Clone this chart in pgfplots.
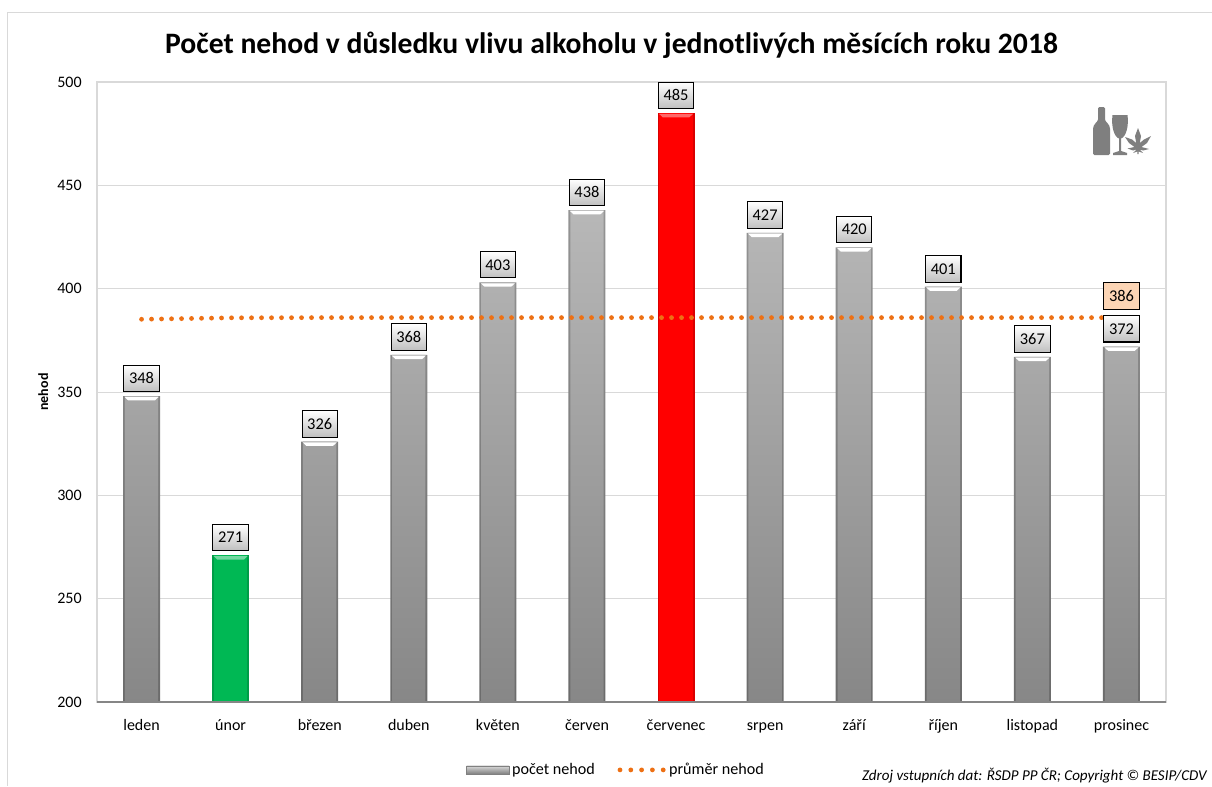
\documentclass[border=0pt]{standalone}
\usepackage{fontspec}
\setmainfont{Carlito}
\usepackage{pgfplots}
\usepackage{pgfplotstable}
\pgfplotsset{compat=1.18}
\definecolor{cGrid}{RGB}{217,217,217}
\definecolor{cAxis}{RGB}{134,134,134}
\definecolor{cAvg}{RGB}{237,112,20}
\definecolor{cAvgBox}{RGB}{252,213,181}
\definecolor{cIcon}{RGB}{127,127,127}
\definecolor{cGreen}{RGB}{0,184,84}
\definecolor{cRed}{RGB}{255,0,0}

% 1 px of the reference is 0.75pt here
\pgfplotstableread{
x y
0 348
2 326
3 368
4 403
5 438
7 427
8 420
9 401
10 367
11 372
}\graydata
\pgfplotstableread{
x y
1 271
}\greendata
\pgfplotstableread{
x y
6 485
}\reddata
\pgfplotstableread{
x y
0 348
1 271
2 326
3 368
4 403
5 438
6 485
7 427
8 420
9 401
10 367
11 372
}\alldata

\pgfdeclareplotmark{barcap}{%
  \pgfpathmoveto{\pgfqpoint{-12.8pt}{-0.6pt}}
  \pgfpathlineto{\pgfqpoint{12.8pt}{-0.6pt}}
  \pgfpathlineto{\pgfqpoint{10pt}{-3.2pt}}
  \pgfpathlineto{\pgfqpoint{-10pt}{-3.2pt}}
  \pgfpathclose
  \pgfusepathqfill
}
\pgfplotsset{
  barout/.style={ybar, bar shift=0pt, bar width=27.75pt, draw=none, forget plot},
  barin/.style={ybar, bar shift=0pt, bar width=25pt, draw=none, forget plot},
  capmark/.style={sharp plot, only marks, mark=barcap, forget plot},
}

\begin{document}
\begin{tikzpicture}
\path[use as bounding box] (0,0) rectangle (909pt,-589.5pt);
\begin{scope}[x=0.75pt,y=-0.75pt]
  \draw[cGrid, line width=0.9pt] (1212,12.5) -- (7.5,12.5) -- (7.5,786);
\end{scope}
\begin{axis}[
  at={(72.75pt,-526.5pt)}, anchor=south west,
  scale only axis, width=801.75pt, height=465pt,
  xmin=-0.5, xmax=11.5, ymin=200, ymax=500,
  xtick={0,...,11},
  xticklabels={leden,únor,březen,duben,květen,červen,červenec,srpen,září,říjen,listopad,prosinec},
  ytick={200,250,...,500},
  major tick length=0pt,
  ymajorgrids, grid style={cGrid, line width=0.75pt},
  axis line style={cGrid, line width=0.9pt},
  /pgf/number format/assume math mode=true,
  tick label style={font=\fontsize{12}{14}\selectfont, color=black},
  yticklabel style={xshift=-8pt},
  xticklabel style={yshift=-9pt, text height=8.5pt, text depth=2.5pt},
  ylabel={nehod}, ylabel style={font=\fontsize{10.5}{12}\selectfont\bfseries, yshift=0pt},
  legend columns=2,
  legend style={at={(0.4858,-0.1095)}, anchor=center, draw=none, fill=none,
    font=\fontsize{12.1}{14}\selectfont, /tikz/every even column/.append style={column sep=15pt}},
]
% gray bars
\addplot[barout, top color=black!42, middle color=black!46, bottom color=black!58] table[x=x,y=y] {\graydata};
\addplot[barin, top color=black!28, middle color=black!33, bottom color=black!47] table[x=x,y=y] {\graydata};
\addplot[capmark, white] table[x=x,y=y] {\graydata};
% lowest and highest month
\addplot[barout, fill=cGreen!85!black] table[x=x,y=y] {\greendata};
\addplot[barin, fill=cGreen] table[x=x,y=y] {\greendata};
\addplot[capmark, cGreen!55!white] table[x=x,y=y] {\greendata};
\addplot[barout, fill=cRed!85!black] table[x=x,y=y] {\reddata};
\addplot[barin, fill=cRed] table[x=x,y=y] {\reddata};
\addplot[capmark, cRed!60!white] table[x=x,y=y] {\reddata};
% legend entries
\addlegendimage{legend image code/.code={
  \draw[draw=black!50, top color=black!15, bottom color=black!50, line width=0.5pt] (-1pt,-3pt) rectangle (31pt,3pt);}}
\addlegendentry{počet nehod}
\addplot[sharp plot, cAvg, line width=3.6pt, line cap=round, dash pattern=on 0pt off 7.5pt,
  legend image code/.code={\draw[cAvg, line width=3.6pt, line cap=round, dash pattern=on 0pt off 8.1pt] (0pt,0pt) -- (33pt,0pt);}]
  coordinates {(0,385.2) (1,385.9) (2,386) (3,386) (4,386) (5,386) (6,386) (7,386) (8,386) (9,386) (10,386) (11,386)};
\addlegendentry{průměr nehod}
% boxed value labels
\addplot[sharp plot, draw=none, forget plot, nodes near coords,
  every node near coord/.style={anchor=south, yshift=3pt, draw=black, line width=0.8pt,
    top color=white, bottom color=black!25, minimum width=26.5pt, minimum height=19.8pt, inner sep=0pt,
    font=\fontsize{12.3}{14}\selectfont, text=black}]
  table[x=x,y=y] {\alldata};
\addplot[sharp plot, draw=none, forget plot, nodes near coords,
  every node near coord/.style={anchor=south, yshift=6pt, draw=black, line width=0.8pt,
    fill=cAvgBox, minimum width=26.5pt, minimum height=19.8pt, inner sep=0pt,
    font=\fontsize{12.3}{14}\selectfont, text=black}]
  coordinates {(11,386)};
\draw[cAxis, line width=1pt] (rel axis cs:0,0) -- (rel axis cs:1,0);
\end{axis}
\begin{scope}[x=0.75pt,y=-0.75pt]
  \node[font=\fontsize{22.25}{26}\selectfont\bfseries, anchor=center] at (611.5,45) {Počet nehod v důsledku vlivu alkoholu v jednotlivých měsících roku 2018};
  \node[font=\fontsize{11.27}{13}\selectfont\itshape, anchor=east, inner sep=0pt] at (1207,776) {Zdroj vstupních dat: ŘSDP PP ČR; Copyright © BESIP/CDV};
  % bottle, glass and leaf icon
  \fill[cIcon, rounded corners=1pt] (1098,107) -- (1105,107) -- (1105,118) .. controls (1105,122) and (1110,124) .. (1110,130)
    -- (1110,155) -- (1093,155) -- (1093,130) .. controls (1093,124) and (1098,122) .. (1098,118) -- cycle;
  \fill[cIcon] (1112.5,115) -- (1127.5,115) .. controls (1129,126) and (1126,137) .. (1121,138.5) -- (1121,151)
    -- (1127,153) -- (1127,155) -- (1113,155) -- (1113,153) -- (1119,151) -- (1119,138.5)
    .. controls (1114,137) and (1111,126) .. (1112.5,115) -- cycle;
  \fill[cIcon] (1138,128) -- (1141,136) -- (1139.8,143) -- (1144,139.5) -- (1151,136) -- (1147,143) -- (1141.5,147)
    -- (1149,149) -- (1143,150.5) -- (1139.5,149.5) -- (1143,153) -- (1138.6,151.5) -- (1138.6,154) -- (1137.4,154) -- (1137.4,151.5)
    -- (1133,153) -- (1136.5,149.5) -- (1133,150.5) -- (1127.5,148.5) -- (1134.5,147) -- (1129,143) -- (1125,137)
    -- (1132,139.5) -- (1136.2,143) -- (1135,136) -- cycle;
\end{scope}
\end{tikzpicture}
\end{document}
